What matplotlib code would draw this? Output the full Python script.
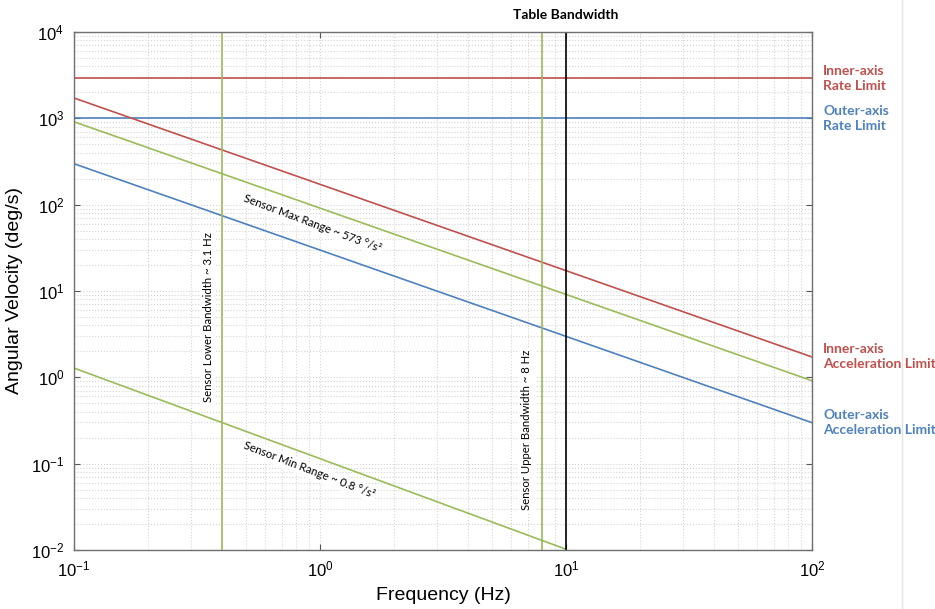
import matplotlib.pyplot as plt
from matplotlib.lines import Line2D

# data (log-log)
freq_ends = [0.1, 100]
inner_rate = [2900, 2900]
outer_rate = [1000, 1000]
inner_accel = [1720, 1.72]
outer_accel = [298, 0.298]
sensor_max = [912, 0.912]
min_freq = [0.1, 10]
sensor_min = [1.28, 0.0102]
sensor_low_bw = 0.4
sensor_up_bw = 8
table_bw = 10

RED = '#C0504D'
BLUE = '#4F81BD'
GREEN = '#9BBB59'
ann_font = ['Lato', 'DejaVu Sans']

plt.rcParams['font.family'] = ['Liberation Sans', 'DejaVu Sans']
plt.rcParams['mathtext.fontset'] = 'custom'
plt.rcParams['mathtext.rm'] = 'Liberation Sans'

fig = plt.figure(figsize=(9.35, 6.09), dpi=100)
ax = fig.add_axes([0.0791, 0.0969, 0.7894, 0.8506])

ax.plot(freq_ends, inner_rate, color=RED, lw=1.2)
ax.plot(freq_ends, outer_rate, color=BLUE, lw=1.2)
ax.plot(freq_ends, inner_accel, color=RED, lw=1.2)
ax.plot(freq_ends, sensor_max, color=GREEN, lw=1.2)
ax.plot(freq_ends, outer_accel, color=BLUE, lw=1.2)
ax.plot(min_freq, sensor_min, color=GREEN, lw=1.2)
ax.axvline(sensor_low_bw, color=GREEN, lw=1.2)
ax.axvline(sensor_up_bw, color=GREEN, lw=1.2)
ax.axvline(table_bw, color='black', lw=1.2)

ax.set_xscale('log')
ax.set_yscale('log')
ax.set_xlim(0.1, 100)
ax.set_ylim(0.01, 1e4)

ax.grid(True, which='both', ls=':', color='#d4d4d4', lw=0.8)
ax.set_axisbelow(True)
ax.tick_params(which='major', direction='in', length=4, top=True, right=True,
               labelsize=12, color='#555555', pad=7)
ax.tick_params(which='minor', length=0)
for s in ax.spines.values():
    s.set_color('#707070')
    s.set_linewidth(1.0)

ax.set_xlabel('Frequency (Hz)', fontsize=14, labelpad=5)
ax.set_ylabel('Angular Velocity (deg/s)', fontsize=14, labelpad=6)

# right-side labels
right_labels = [
    ('Inner-axis\nRate Limit', inner_rate[-1], RED),
    ('Outer-axis\nRate Limit', outer_rate[-1], BLUE),
    ('Inner-axis\nAcceleration Limit', inner_accel[-1], RED),
    ('Outer-axis\nAcceleration Limit', outer_accel[-1], BLUE),
]
for txt, yv, col in right_labels:
    ax.annotate(txt, xy=(100, yv), xytext=(8, 0), textcoords='offset points',
                va='center', ha='left', color=col, fontsize=10, fontweight='bold',
                family=ann_font, linespacing=1.3, annotation_clip=False)

ax.annotate('Table Bandwidth', xy=(table_bw, 1e4), xytext=(0, 8),
            textcoords='offset points', ha='center', va='bottom',
            fontsize=10, fontweight='bold', family=ann_font, annotation_clip=False)

box = dict(facecolor='white', edgecolor='none', pad=1.5)
ax.text(0.351, 5.0, 'Sensor Lower Bandwidth ~ 3.1 Hz', rotation=90, ha='center',
        va='center', fontsize=8.2, family=ann_font, bbox=box)
ax.text(6.94, 0.245, 'Sensor Upper Bandwidth ~ 8 Hz', rotation=90, ha='center',
        va='center', fontsize=8.2, family=ann_font, bbox=box)
ax.text(0.93, 60, 'Sensor Max Range ~ 573 °/s²', rotation=-20.5, ha='center',
        va='center', fontsize=8.2, family=ann_font, bbox=box)
ax.text(0.90, 0.084, 'Sensor Min Range ~ 0.8 °/s²', rotation=-21, ha='center',
        va='center', fontsize=8.2, family=ann_font, bbox=box)

fig.add_artist(Line2D([902 / 935, 902 / 935], [0, 1], color='#e4e4e4', lw=1.0,
                      transform=fig.transFigure))

fig.savefig('out.png', dpi=100)
